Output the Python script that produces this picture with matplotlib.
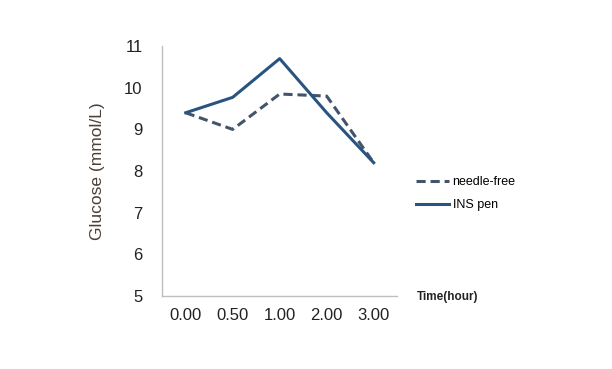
import matplotlib
matplotlib.use("Agg")
import matplotlib.pyplot as plt

plt.rcParams['font.family'] = ['Liberation Sans', 'DejaVu Sans']

times = ["0.00", "0.50", "1.00", "2.00", "3.00"]
needle_free = [9.4, 9.0, 9.85, 9.8, 8.2]
ins_pen = [9.4, 9.77, 10.7, 9.4, 8.2]

fig = plt.figure(figsize=(6.12, 3.69), dpi=100)
ax = fig.add_axes([0.265, 0.198, 0.384, 0.677])

xs = list(range(len(times)))
ax.plot(xs, needle_free, color="#44546a", lw=2.2, ls=(0, (3, 1.6)), label="needle-free")
ax.plot(xs, ins_pen, color="#2a5480", lw=2.2, label="INS pen")

ax.set_xlim(-0.5, len(times) - 0.5)
ax.set_ylim(5, 11)
ax.set_yticks(range(5, 12))
ax.set_xticks(xs)
ax.set_xticklabels(times)
ax.tick_params(length=0, labelsize=12, colors="#222222", pad=9)
ax.tick_params(axis="y", pad=14)

for s in ["top", "right"]:
    ax.spines[s].set_visible(False)
for s in ["left", "bottom"]:
    ax.spines[s].set_color("#bfbfbf")
    ax.spines[s].set_linewidth(1)

ax.set_ylabel("Glucose (mmol/L)", fontsize=12.5, color="#4a4036", labelpad=14)

fig.text(0.681, 0.188, "Time(hour)", fontsize=8.5, fontweight="bold", color="#222222")

leg = ax.legend(loc="upper left", bbox_to_anchor=(1.06, 0.5), frameon=False,
                fontsize=9, handlelength=2.6, handletextpad=0.3, labelspacing=0.9,
                borderaxespad=0)

fig.savefig("out.png", dpi=100)
